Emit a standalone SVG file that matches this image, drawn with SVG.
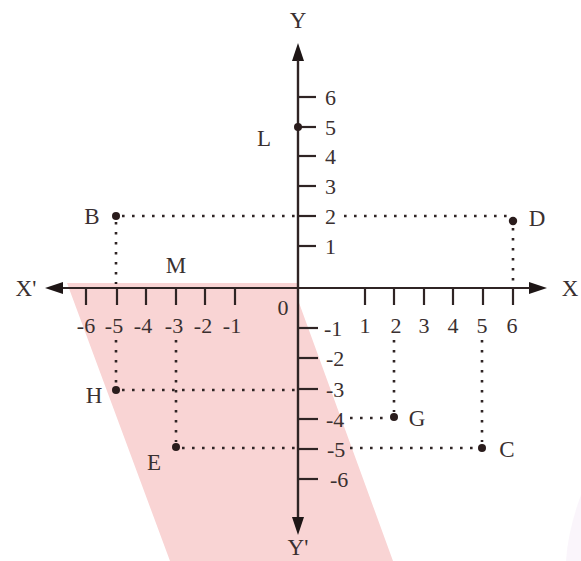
<svg xmlns="http://www.w3.org/2000/svg" width="581" height="561" viewBox="0 0 581 561">
<style>
.ax{stroke:#2f2424;stroke-width:2.2;fill:none}
.tk{stroke:#2f2424;stroke-width:2.2;fill:none}
.dot{stroke:#2f2424;stroke-width:2.6;stroke-dasharray:2.6 7.4;fill:none}
.pt{fill:#2a1c1c}
.num{font-family:"Liberation Serif","Times New Roman",serif;font-size:22px;fill:#3a3030}
.lbl{font-family:"Liberation Serif","Times New Roman",serif;font-size:23px;fill:#3a3030;text-anchor:middle}
.c{text-anchor:middle}
</style>
<defs>
<marker id="arr" viewBox="0 0 18 12" refX="1" refY="6" markerWidth="18" markerHeight="12" markerUnits="userSpaceOnUse" orient="auto">
<path d="M0,0 L18,6 L0,12 Z" fill="#1e1616"/>
</marker>
</defs>
<rect width="581" height="561" fill="#ffffff"/>
<path id="shade" d="M67,283 L298,283 L298,300 L393,561 L170,561 Z" fill="#f9d4d4"/>
<path d="M581,495 Q568,530 566,561 L581,561 Z" fill="#f6eef9" opacity="0.6"/>
<g id="connectors">
<line class="ax" x1="62" y1="288" x2="530" y2="288" marker-end="url(#arr)"/>
<line class="ax" x1="530" y1="288" x2="62" y2="288" marker-end="url(#arr)"/>
<line class="ax" x1="298" y1="518" x2="298" y2="60" marker-end="url(#arr)"/>
<line class="ax" x1="298" y1="60" x2="298" y2="518" marker-end="url(#arr)"/>
<g class="tk">
<line x1="298" y1="97" x2="316" y2="97"/><line x1="298" y1="127" x2="316" y2="127"/>
<line x1="298" y1="156" x2="316" y2="156"/><line x1="298" y1="186" x2="316" y2="186"/>
<line x1="298" y1="216" x2="316" y2="216"/><line x1="298" y1="246" x2="316" y2="246"/>
<line x1="298" y1="328" x2="318" y2="328"/><line x1="298" y1="358" x2="318" y2="358"/>
<line x1="298" y1="389" x2="318" y2="389"/><line x1="298" y1="419" x2="318" y2="419"/>
<line x1="298" y1="449" x2="318" y2="449"/><line x1="298" y1="479" x2="318" y2="479"/>
<line x1="86" y1="288" x2="86" y2="305"/><line x1="117" y1="288" x2="117" y2="305"/>
<line x1="146" y1="288" x2="146" y2="305"/><line x1="176" y1="288" x2="176" y2="305"/>
<line x1="205" y1="288" x2="205" y2="305"/><line x1="235" y1="288" x2="235" y2="305"/>
<line x1="365" y1="288" x2="365" y2="305"/><line x1="394" y1="288" x2="394" y2="305"/>
<line x1="424" y1="288" x2="424" y2="305"/><line x1="453" y1="288" x2="453" y2="305"/>
<line x1="483" y1="288" x2="483" y2="305"/><line x1="513" y1="288" x2="513" y2="305"/>
</g>
<line class="dot" x1="122" y1="216" x2="296" y2="216"/>
<line class="dot" x1="344" y1="216" x2="508" y2="216"/>
<line class="dot" x1="116" y1="222" x2="116" y2="284"/>
<line class="dot" x1="513" y1="228" x2="513" y2="284"/>
<line class="dot" x1="116" y1="340" x2="116" y2="386"/>
<line class="dot" x1="122" y1="390" x2="296" y2="390"/>
<line class="dot" x1="176" y1="340" x2="176" y2="442"/>
<line class="dot" x1="182" y1="448" x2="296" y2="448"/>
<line class="dot" x1="350" y1="448" x2="476" y2="448"/>
<line class="dot" x1="350" y1="418" x2="390" y2="418"/>
<line class="dot" x1="394" y1="340" x2="394" y2="412"/>
<line class="dot" x1="482" y1="340" x2="482" y2="442"/>
</g>
<g id="axis-labels">
<text class="lbl" x="298" y="28">Y</text>
<text class="lbl" x="298" y="555">Y'</text>
<text class="lbl" x="570" y="296">X</text>
<text class="lbl" x="26" y="296">X'</text>
<text class="num c" x="283" y="315">0</text>
<g class="num">
<text x="325" y="105">6</text><text x="325" y="135">5</text><text x="325" y="164">4</text>
<text x="325" y="194">3</text><text x="325" y="224">2</text><text x="325" y="254">1</text>
<text x="324" y="336">-1</text><text x="326" y="366">-2</text><text x="326" y="397">-3</text>
<text x="326" y="427">-4</text><text x="327" y="457">-5</text><text x="330" y="487">-6</text>
</g>
<g class="num c">
<text x="86" y="333">-6</text><text x="114" y="333">-5</text><text x="143" y="333">-4</text>
<text x="174" y="333">-3</text><text x="203" y="333">-2</text><text x="232" y="333">-1</text>
<text x="365" y="333">1</text><text x="396" y="333">2</text><text x="424" y="333">3</text>
<text x="453" y="333">4</text><text x="482" y="333">5</text><text x="512" y="333">6</text>
</g>
</g>
<g id="L"><circle class="pt" cx="298" cy="127" r="4"/><text class="lbl" x="264" y="146">L</text></g>
<g id="B"><circle class="pt" cx="116" cy="216" r="4"/><text class="lbl" x="92" y="224">B</text></g>
<g id="D"><circle class="pt" cx="513" cy="221" r="4.2"/><text class="lbl" x="537" y="226">D</text></g>
<g id="M"><text class="lbl" x="176" y="273">M</text></g>
<g id="H"><circle class="pt" cx="116" cy="390" r="4"/><text class="lbl" x="94" y="403">H</text></g>
<g id="G"><circle class="pt" cx="394" cy="417" r="4"/><text class="lbl" x="417" y="426">G</text></g>
<g id="E"><circle class="pt" cx="176" cy="447" r="4"/><text class="lbl" x="154" y="470">E</text></g>
<g id="C"><circle class="pt" cx="482" cy="448" r="4"/><text class="lbl" x="507" y="457">C</text></g>
</svg>
